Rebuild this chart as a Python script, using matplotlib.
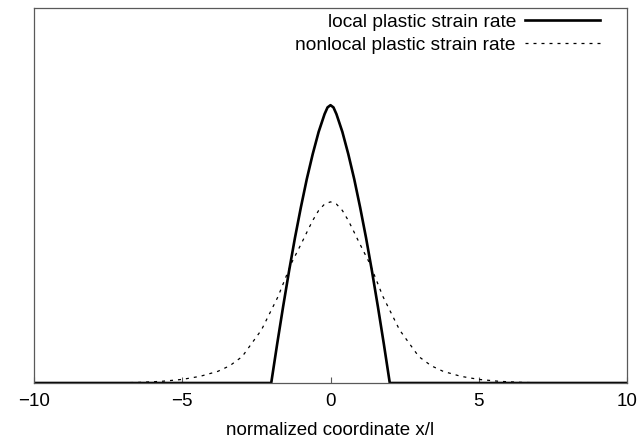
import matplotlib
matplotlib.use("Agg")
import matplotlib.pyplot as plt

plt.rcParams['font.family'] = ['Liberation Sans', 'DejaVu Sans']

# local plastic strain rate (localized band of width ~4 l)
local_x = [-10, -2.0, -1.8, -1.6, -1.4, -1.2, -1.0, -0.8, -0.6, -0.4, -0.2, -0.1, 0.0,
           0.1, 0.2, 0.4, 0.6, 0.8, 1.0, 1.2, 1.4, 1.6, 1.8, 2.0, 10]
local_y = [0.0, 0.0, 0.14, 0.274, 0.402, 0.522, 0.632, 0.734, 0.824, 0.904, 0.968, 0.992, 1.0,
           0.992, 0.968, 0.904, 0.824, 0.734, 0.632, 0.522, 0.402, 0.274, 0.14, 0.0, 0.0]

# nonlocal (averaged) plastic strain rate
nonlocal_x = [-10, -7.5, -6.5, -5.7, -5.0, -4.4, -3.8, -3.4, -2.98, -2.33, -1.77, -1.32, -1.05,
              -0.9, -0.76, -0.6, -0.4, -0.2, 0.0, 0.2, 0.4, 0.6, 0.76, 0.9, 1.05, 1.32, 1.77,
              2.33, 2.98, 3.4, 3.8, 4.4, 5.0, 5.7, 6.5, 7.5, 10]
nonlocal_y = [0.0, 0.0, 0.002, 0.006, 0.013, 0.024, 0.042, 0.062, 0.095, 0.191, 0.311, 0.431,
              0.488, 0.52, 0.551, 0.585, 0.621, 0.644, 0.652, 0.644, 0.621, 0.585, 0.551,
              0.52, 0.488, 0.431, 0.311, 0.191, 0.095, 0.062, 0.042, 0.024, 0.013, 0.006,
              0.002, 0.0, 0.0]

xticks = [-10, -5, 0, 5, 10]
xtick_labels = ['\u221210', '\u22125', '0', '5', '10']

fig = plt.figure(figsize=(6.43, 4.41), dpi=100)
ax = fig.add_axes([0.053, 0.1315, 0.922, 0.8505])

ax.plot(local_x, local_y, color='black', lw=1.9, solid_joinstyle='round',
        label='local plastic strain rate')
ax.plot(nonlocal_x, nonlocal_y, color='black', lw=0.9, dashes=(2.4, 4.0),
        label='nonlocal plastic strain rate')

ax.set_xlim(-10, 10)
ax.set_ylim(0, 1.35)
ax.set_xticks(xticks)
ax.set_xticklabels(xtick_labels)
ax.set_yticks([])
ax.tick_params(axis='x', direction='in', length=4, width=0.8, color='0.35',
               labelsize=13.5, pad=7)
for s in ax.spines.values():
    s.set_color('0.35')
    s.set_linewidth(0.9)

ax.set_xlabel('normalized coordinate x/l', fontsize=13.5, labelpad=9)

ax.legend(loc='upper right', bbox_to_anchor=(0.955, 0.985), frameon=False,
          markerfirst=False, fontsize=13.8, handlelength=3.9, handletextpad=0.5,
          labelspacing=0.3, borderpad=0, borderaxespad=0)

fig.savefig('out.png', dpi=100)
